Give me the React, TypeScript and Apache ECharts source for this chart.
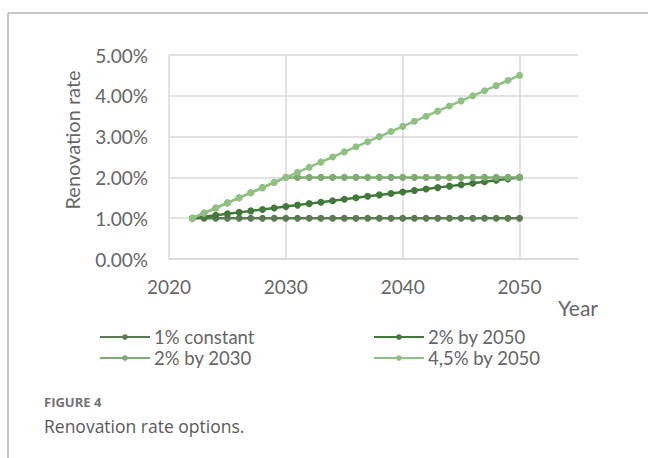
import React, { useEffect, useRef } from "react";
import * as echarts from "echarts";

const years = [2022, 2023, 2024, 2025, 2026, 2027, 2028, 2029, 2030, 2031, 2032, 2033, 2034, 2035, 2036, 2037, 2038, 2039, 2040, 2041, 2042, 2043, 2044, 2045, 2046, 2047, 2048, 2049, 2050];

const seriesNames = ["1% constant", "2% by 2050", "2% by 2030", "4,5% by 2050"];

const constant1 = [1, 1, 1, 1, 1, 1, 1, 1, 1, 1, 1, 1, 1, 1, 1, 1, 1, 1, 1, 1, 1, 1, 1, 1, 1, 1, 1, 1, 1];

const by2050_2 = [1.0, 1.036, 1.071, 1.107, 1.143, 1.179, 1.214, 1.25, 1.286, 1.321, 1.357, 1.393, 1.429, 1.464, 1.5, 1.536, 1.571, 1.607, 1.643, 1.679, 1.714, 1.75, 1.786, 1.821, 1.857, 1.893, 1.929, 1.964, 2.0];

const by2030_2 = [1.0, 1.125, 1.25, 1.375, 1.5, 1.625, 1.75, 1.875, 2.0, 2.0, 2.0, 2.0, 2.0, 2.0, 2.0, 2.0, 2.0, 2.0, 2.0, 2.0, 2.0, 2.0, 2.0, 2.0, 2.0, 2.0, 2.0, 2.0, 2.0];

const by2050_45 = [1.0, 1.125, 1.25, 1.375, 1.5, 1.625, 1.75, 1.875, 2.0, 2.125, 2.25, 2.375, 2.5, 2.625, 2.75, 2.875, 3.0, 3.125, 3.25, 3.375, 3.5, 3.625, 3.75, 3.875, 4.0, 4.125, 4.25, 4.375, 4.5];

const colors = ["#5B7B52", "#41793A", "#7EAB72", "#8FC183"];

export default function App() {
  const ref = useRef<HTMLDivElement>(null);
  useEffect(() => {
    if (!ref.current) return;
    const chart = echarts.init(ref.current, undefined, { renderer: "svg" });
    const values = [constant1, by2050_2, by2030_2, by2050_45];
    const font = "Lato, 'Liberation Sans', sans-serif";
    const textColor = "#666666";
    const gridColor = "#d9d9d9";
    const fs = 19;
    const legendCommon = {
      orient: "vertical",
      top: 322,
      itemWidth: 50,
      itemHeight: 7,
      itemGap: 1,
      textStyle: { fontSize: 18.5, lineHeight: 20, fontFamily: font, color: textColor, padding: [0, 0, 0, -1] },
    };
    chart.setOption({
      animation: false,
      backgroundColor: "#ffffff",
      grid: { left: 169, top: 55, right: 70, bottom: 199, containLabel: false },
      xAxis: {
        type: "value",
        min: 2020,
        max: 2055,
        interval: 10,
        axisLine: { show: true, lineStyle: { color: gridColor, width: 1.5 } },
        axisTick: { show: false },
        axisLabel: {
          margin: 18,
          fontSize: fs,
          fontFamily: font,
          color: textColor,
          showMaxLabel: false,
          formatter: (v: number) => String(v),
        },
        splitLine: { show: true, showMaxLine: false, lineStyle: { color: gridColor, width: 1.5 } },
      },
      yAxis: {
        type: "value",
        min: 0,
        max: 5,
        interval: 1,
        axisLine: { show: false },
        axisTick: { show: false },
        axisLabel: {
          margin: 21,
          fontSize: fs,
          fontFamily: font,
          color: textColor,
          formatter: (v: number) => v.toFixed(2) + "%",
        },
        splitLine: { show: true, lineStyle: { color: gridColor, width: 1.5 } },
      },
      legend: [
        { ...legendCommon, data: [seriesNames[0], seriesNames[2]], left: 94 },
        { ...legendCommon, data: [seriesNames[1], seriesNames[3]], left: 368 },
      ],
      series: seriesNames.map((name, i) => ({
        name,
        type: "line",
        data: years.map((y, j) => [y, values[i][j]]),
        symbol: "circle",
        symbolSize: 7,
        showSymbol: true,
        color: colors[i],
        lineStyle: { width: 2.5, color: colors[i] },
        itemStyle: { color: colors[i] },
        z: 2 + i,
      })),
      graphic: [
        { type: "line", shape: { x1: 8, y1: 13, x2: 648, y2: 13 }, style: { stroke: "#b5b5b5", lineWidth: 1.5 } },
        { type: "line", shape: { x1: 8, y1: 13, x2: 8, y2: 458 }, style: { stroke: "#b5b5b5", lineWidth: 1.5 } },
        {
          type: "text",
          x: 72,
          y: 140,
          rotation: Math.PI / 2,
          style: { text: "Renovation rate", fontSize: 20, fontFamily: font, fill: textColor, textAlign: "center", textVerticalAlign: "middle" },
        },
        {
          type: "text",
          x: 578,
          y: 307,
          style: { text: "Year", fontSize: 21, fontFamily: font, fill: textColor, textAlign: "center", textVerticalAlign: "middle" },
        },
        {
          type: "text",
          x: 44,
          y: 402,
          style: { text: "FIGURE 4", fontSize: 13, fontWeight: "bold", fontFamily: "'Open Sans', sans-serif", fill: "#737373", textVerticalAlign: "middle" },
        },
        {
          type: "text",
          x: 44,
          y: 426,
          style: { text: "Renovation rate options.", fontSize: 17.5, fontFamily: "'Open Sans', sans-serif", fill: "#5a5a5a", textVerticalAlign: "middle" },
        },
      ],
    });
    return () => chart.dispose();
  }, []);
  return <div ref={ref} style={{ position: "fixed", left: 0, top: 0, width: 648, height: 458 }} />;
}
